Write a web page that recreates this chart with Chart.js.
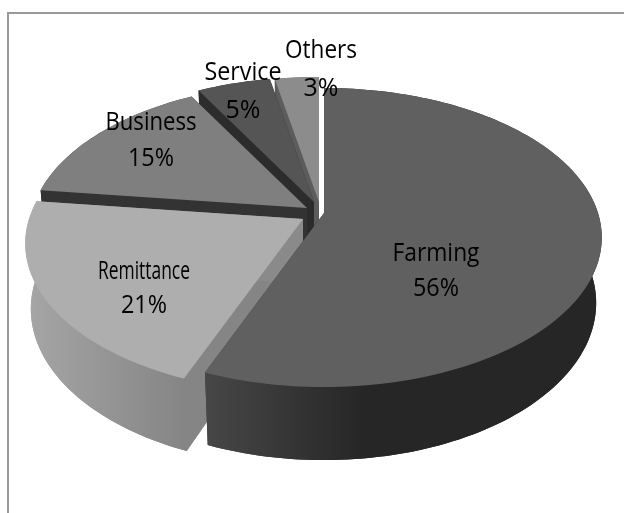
<!DOCTYPE html>
<html>
<head>
<meta charset="utf-8">
<style>
  html, body { margin: 0; padding: 0; background: #fff; }
  canvas { display: block; }
</style>
<script src="https://cdn.jsdelivr.net/npm/chart.js@4"></script>
</head>
<body>
<canvas id="pieChart" width="624" height="513"></canvas>
<script>
const categories = ['Farming', 'Remittance', 'Business', 'Service', 'Others'];
const shares = [56, 21, 15, 5, 3];

const topColors = ['#606060', '#aeaeae', '#7f7f7f', '#555555', '#8c8c8c'];
const cutColors = ['#3a3a3a', '#8a8a8a', '#333333', '#2c2c2c', '#5c5c5c'];
const wallColors = [['#474747', '#262626'], ['#a6a6a6', '#858585'], ['#333333', '#333333'], ['#2c2c2c', '#2c2c2c'], ['#5c5c5c', '#5c5c5c']];

// how far each slice is pulled away from the middle, in px
const explodeX = [12, -9, -5, 2, 7];
const explodeY = [3, 9, -2, -8, -8];

// label centres, name line and percent line
const labelX = [436, 144, 151, 243, 321];
const nameY = [254, 272, 123, 73, 51];
const percentY = [289, 306, 159, 111, 89];
const nameWidth = [87, 92, 91, 77, 72];

// fake perspective for the 3d look
const RADIUS = 274, TILT = 0.531, PERSP = 0.164, SHRINK = 0.02, DEPTH = 66;

function project(el, i, u, v, z) {
    const w = 1 + PERSP * v + SHRINK * z;
    return {
        x: el.x + explodeX[i] + RADIUS * u / w,
        y: el.y + explodeY[i] + (-RADIUS * TILT * v + DEPTH * z) / w
    };
}

function arcPoints(el, i, z) {
    const pts = [];
    const steps = Math.max(4, Math.ceil((el.endAngle - el.startAngle) * 40));
    for (let s = 0; s <= steps; s++) {
        const a = el.startAngle + (el.endAngle - el.startAngle) * s / steps;
        pts.push(project(el, i, Math.cos(a), -Math.sin(a), z));
    }
    return pts;
}

function fillPoly(ctx, pts, color) {
    ctx.beginPath();
    pts.forEach((p, n) => n ? ctx.lineTo(p.x, p.y) : ctx.moveTo(p.x, p.y));
    ctx.closePath();
    ctx.fillStyle = color;
    ctx.fill();
}

const pie3d = {
    id: 'pie3d',
    beforeDatasetDraw(chart, args) {
        const ctx = chart.ctx;
        const arcs = args.meta.data;
        // back slices first, farming goes on top of everything
        for (let i = arcs.length - 1; i >= 0; i--) {
            const el = arcs[i];
            const top = arcPoints(el, i, 0);
            const bottom = arcPoints(el, i, 1);
            const apexTop = project(el, i, 0, 0, 0);
            const apexBottom = project(el, i, 0, 0, 1);

            const first = [apexTop, top[0], bottom[0], apexBottom];
            const last = [apexTop, top[top.length - 1], bottom[bottom.length - 1], apexBottom];
            fillPoly(ctx, first, cutColors[i]);
            fillPoly(ctx, last, cutColors[i]);

            const xs = top.map(p => p.x);
            const grad = ctx.createLinearGradient(Math.min(...xs), 0, Math.max(...xs), 0);
            grad.addColorStop(0, wallColors[i][0]);
            grad.addColorStop(i === 0 ? 0.4 : 1, wallColors[i][1]);
            grad.addColorStop(1, wallColors[i][1]);
            fillPoly(ctx, [apexBottom].concat(bottom), grad);
            fillPoly(ctx, top.concat(bottom.slice().reverse()), grad);

            fillPoly(ctx, [apexTop].concat(top), el.options.backgroundColor);
        }
        return false;
    },
    afterDatasetsDraw(chart) {
        const ctx = chart.ctx;
        ctx.save();
        ctx.fillStyle = '#000000';
        ctx.textAlign = 'center';
        ctx.textBaseline = 'middle';
        ctx.font = '25px "Open Sans"';
        categories.forEach((name, i) => {
            ctx.fillText(name, labelX[i], nameY[i], nameWidth[i]);
            ctx.fillText(shares[i] + '%', labelX[i], percentY[i], 46);
        });
        ctx.restore();
    }
};

const frame = {
    id: 'frame',
    beforeDraw(chart) {
        const ctx = chart.ctx;
        ctx.save();
        ctx.fillStyle = '#ffffff';
        ctx.fillRect(0, 0, chart.width, chart.height);
        ctx.strokeStyle = '#999999';
        ctx.lineWidth = 2;
        ctx.beginPath();
        ctx.moveTo(8, chart.height);
        ctx.lineTo(8, 13);
        ctx.lineTo(chart.width, 13);
        ctx.stroke();
        ctx.restore();
    }
};

const ctx = document.getElementById('pieChart').getContext('2d');
new Chart(ctx, {
    type: 'pie',
    data: {
        labels: categories,
        datasets: [{
            data: shares,
            backgroundColor: topColors,
            borderWidth: 0
        }]
    },
    options: {
        responsive: false,
        animation: false,
        layout: { padding: { bottom: 93 } },
        plugins: {
            legend: { display: false },
            tooltip: { enabled: false }
        }
    },
    plugins: [frame, pie3d]
});
</script>
</body>
</html>
